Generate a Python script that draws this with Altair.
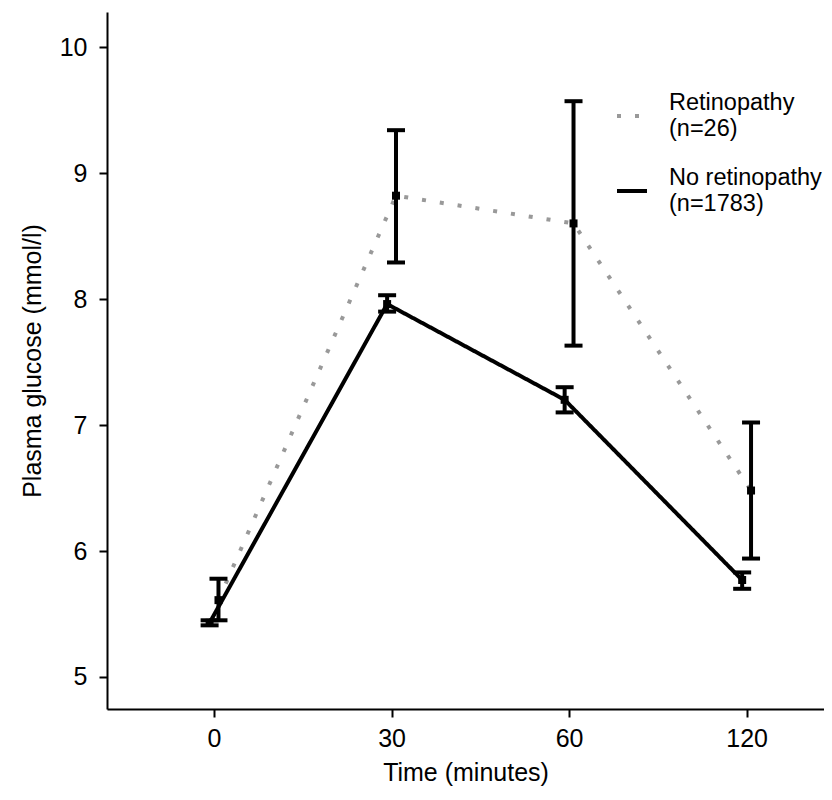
import altair as alt
import pandas as pd

times = ["0", "30", "60", "120"]
groups = ["Retinopathy", "No retinopathy"]
group_labels = [["Retinopathy", "(n=26)"], ["No retinopathy", "(n=1783)"]]

ret_mean = [5.61, 8.82, 8.60, 6.48]
ret_low = [5.45, 8.29, 7.63, 5.94]
ret_high = [5.78, 9.34, 9.57, 7.02]

no_mean = [5.43, 7.96, 7.20, 5.77]
no_low = [5.41, 7.90, 7.10, 5.70]
no_high = [5.45, 8.03, 7.30, 5.83]

rows = []
for i, t in enumerate(times):
    rows.append(dict(idx=i, time=t, group=groups[0], mean=ret_mean[i], low=ret_low[i], high=ret_high[i]))
for i, t in enumerate(times):
    rows.append(dict(idx=i, time=t, group=groups[1], mean=no_mean[i], low=no_low[i], high=no_high[i]))
df = pd.DataFrame(rows)

label_expr = " : ".join(
    f"datum.value == {i} ? '{t}'" for i, t in enumerate(times)
) + " : ''"
legend_expr = " : ".join(
    f"datum.label == '{g}' ? ['{l[0]}', '{l[1]}']" for g, l in zip(groups, group_labels)
) + " : datum.label"

xenc = alt.X(
    "xpos:Q",
    scale=alt.Scale(domain=[-0.603, 3.436], nice=False, zero=False),
    axis=alt.Axis(
        title="Time (minutes)", values=[0, 1, 2, 3], labelExpr=label_expr,
        titlePadding=9, labelPadding=9,
    ),
)
yenc = alt.Y(
    "mean:Q",
    scale=alt.Scale(domain=[4.746, 10.278], nice=False, zero=False),
    axis=alt.Axis(title="Plasma glucose (mmol/l)", values=[5, 6, 7, 8, 9, 10],
                  format="d", titlePadding=14, labelPadding=12),
)

base = alt.Chart(df).transform_calculate(
    xpos="datum.idx + (datum.group == 'Retinopathy' ? 0.025 : -0.025)"
)

lines = base.mark_line(strokeCap="butt").encode(
    x=xenc,
    y=yenc,
    color=alt.Color(
        "group:N",
        scale=alt.Scale(domain=groups, range=["#999999", "#000000"]),
        legend=alt.Legend(
            title=None, orient="none", legendX=508, legendY=87,
            symbolType="stroke", symbolSize=900, symbolStrokeWidth=4,
            labelFontSize=23.5, labelFont="Liberation Sans", labelColor="#000000",
            labelExpr=legend_expr,
            labelLimit=300, labelOffset=20, rowPadding=26, labelBaseline="line-bottom",
        ),
    ),
    strokeDash=alt.StrokeDash(
        "group:N",
        scale=alt.Scale(domain=groups, range=[[4, 14], [1, 0]]),
        legend=None,
    ),
    strokeWidth=alt.StrokeWidth(
        "group:N", scale=alt.Scale(domain=groups, range=[4, 4]), legend=None
    ),
    detail="group:N",
)

bars = base.mark_rule(color="black", strokeWidth=4).encode(
    x="xpos:Q", y="low:Q", y2="high:Q"
)
caps_low = base.mark_tick(color="black", orient="horizontal", size=18, thickness=4, opacity=1).encode(
    x="xpos:Q", y="low:Q"
)
caps_high = base.mark_tick(color="black", orient="horizontal", size=18, thickness=4, opacity=1).encode(
    x="xpos:Q", y="high:Q"
)
points = base.mark_square(color="black", size=64, opacity=1).encode(
    x="xpos:Q", y="mean:Q"
)

chart = alt.layer(lines, bars, caps_low, caps_high, points).properties(
    width=717, height=697,
    padding={"left": 99, "top": 4, "right": 0, "bottom": 78},
    autosize=alt.AutoSizeParams(type="none"),
).configure_view(stroke=None).configure_axis(
    grid=False, domainColor="black", domainWidth=2, tickColor="black", tickWidth=2,
    tickSize=8, labelFontSize=25, titleFontSize=25, labelFont="Liberation Sans",
    titleFont="Liberation Sans", labelColor="black", titleColor="black",
    titleFontWeight="normal",
)

chart.save("out.html", embed_options={"renderer": "svg", "actions": False})
